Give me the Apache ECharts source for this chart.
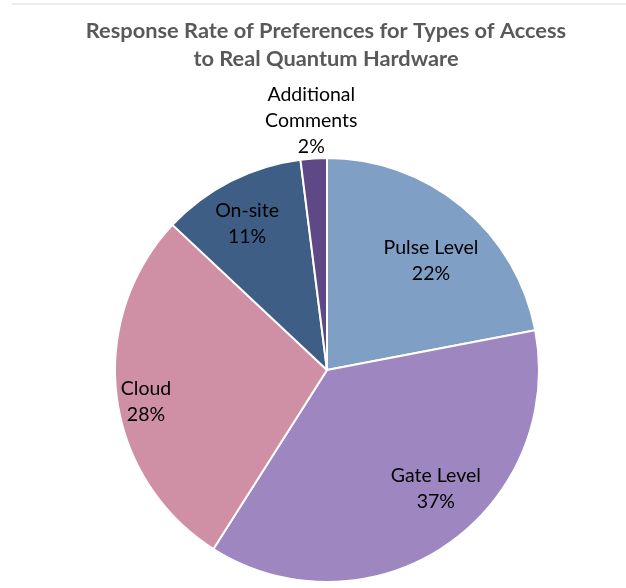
<!DOCTYPE html>
<html>
<head>
<meta charset="utf-8">
<style>
  html, body { margin: 0; padding: 0; background: #ffffff; }
  #chart { width: 626px; height: 588px; }
</style>
<script src="https://cdn.jsdelivr.net/npm/echarts@6/dist/echarts.min.js"></script>
</head>
<body>
<div id="chart"></div>
<script>
// Access types and their response shares (percent), clockwise from 12 o'clock
const categories = ['Pulse Level', 'Gate Level', 'Cloud', 'On-site', 'Additional\nComments'];
const shares = [22, 37, 28, 11, 2];
const sliceColors = ['#7FA0C4', '#9E86C1', '#CF90A5', '#3F5E85', '#5E4885'];
const chartTitle = 'Response Rate of Preferences for Types of Access\nto Real Quantum Hardware';
// label placement: distance from centre (fraction of radius) and angular nudge (degrees)
const labelReach = [0.71, 0.76, 0.867, 0.785, 1.18];
const labelTurn = [4.1, -8.3, -2.8, -1.7, 0];

const CX = 327, CY = 370, R = 212;
const total = shares.reduce((a, b) => a + b, 0);

const chart = echarts.init(document.getElementById('chart'), null, { renderer: 'canvas' });

function labelSpot(i) {
  let before = 0;
  for (let k = 0; k < i; k++) before += shares[k];
  const mid = (before + shares[i] / 2) / total * 2 * Math.PI + labelTurn[i] * Math.PI / 180;
  const d = labelReach[i] * R;
  return { x: CX + d * Math.sin(mid), y: CY - d * Math.cos(mid) };
}

chart.setOption({
  backgroundColor: '#ffffff',
  animation: false,
  graphic: [{
    type: 'line',
    shape: { x1: 12, y1: 4, x2: 626, y2: 4 },
    style: { stroke: '#D9D9D9', lineWidth: 1 }
  }, {
    type: 'text',
    x: 326,
    y: 17,
    style: {
      text: chartTitle,
      align: 'center',
      verticalAlign: 'top',
      fontFamily: 'Lato',
      fontWeight: 'bold',
      fontSize: 21.8,
      lineHeight: 28,
      fill: '#595959'
    }
  }],
  series: [{
    type: 'pie',
    center: [CX, CY],
    radius: R,
    startAngle: 90,
    clockwise: true,
    silent: true,
    data: categories.map((name, i) => ({
      name: name,
      value: shares[i],
      itemStyle: { color: sliceColors[i] }
    })),
    itemStyle: { borderColor: '#ffffff', borderWidth: 2 },
    label: {
      show: true,
      position: 'inside',
      formatter: p => p.name + '\n' + p.value + '%',
      fontFamily: 'Lato',
      fontSize: 19.5,
      lineHeight: 26,
      color: '#000000',
      align: 'center',
      verticalAlign: 'middle'
    },
    labelLine: { show: false },
    labelLayout: function (params) {
      const p = labelSpot(params.dataIndex);
      return { x: p.x, y: p.y, align: 'center', verticalAlign: 'middle' };
    }
  }]
});
</script>
</body>
</html>
